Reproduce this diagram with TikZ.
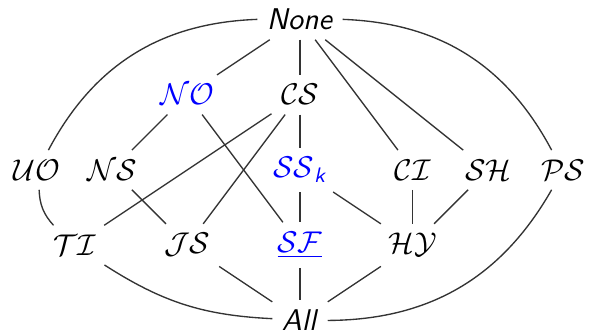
\documentclass[tikz,border=0pt]{standalone}
\usepackage{amsmath}
\usepackage{xcolor}
\usepackage{tikz}
\usetikzlibrary{positioning}

\begin{document}
\begin{tikzpicture}[
      x=0.8816cm, y=0.8816cm,
      font=\normalsize,
      cls/.style={inner sep=3pt},
      hcls/.style={cls, text=blue},
      edge/.style={black!80, line width=0.45pt},
    ]
      \useasboundingbox (-3.99,-2.19) rectangle (3.87,2.26);

      % Top and bottom
      \node[cls] (none) at ( 0.0,  2.0) {\textsf{\itshape None}};
      \node[cls] (all)  at ( 0.0, -2.0) {\textsf{\itshape All}};

      % Second row
      \node[hcls] (no) at (-1.5,  1.0) {$\mathcal{NO}$};
      \node[cls]  (cs) at ( 0.0,  1.0) {$\mathcal{CS}$};

      % Third row
      \node[cls]  (uo)  at (-3.5,  0.0) {$\mathcal{UO}$};
      \node[cls]  (ns)  at (-2.5,  0.0) {$\mathcal{NS}$};
      \node[hcls] (ssk) at ( 0.0,  0.0) {$\mathcal{SS}_{\textsf{\itshape k}}$};
      \node[cls]  (ci)  at ( 1.5,  0.0) {$\mathcal{CI}$};
      \node[cls]  (sh)  at ( 2.5,  0.0) {$\mathcal{SH}$};
      \node[cls]  (ps)  at ( 3.5,  0.0) {$\mathcal{PS}$};

      % Fourth row
      \node[cls]  (ti) at (-3.0, -1.0) {$\mathcal{TI}$};
      \node[cls]  (js) at (-1.5, -1.0) {$\mathcal{JS}$};
      \node[hcls] (sf) at ( 0.0, -1.0) {$\underline{\mathcal{SF}}$};
      \node[cls]  (hy) at ( 1.5, -1.0) {$\mathcal{HY}$};

      % Edges
      \draw[edge] (none) to[bend right=30] (uo);
      \draw[edge] (none) -- (no);
      \draw[edge] (none) -- (cs);
      \draw[edge] (none) -- (ci);
      \draw[edge] (none) -- (sh);
      \draw[edge] (none) to[bend left=30] (ps);
      \draw[edge] (no) -- (ns);
      \draw[edge] (no) -- (sf);
      \draw[edge] (cs) -- (ti);
      \draw[edge] (cs) -- (js);
      \draw[edge] (cs) -- (ssk);
      \draw[edge] (uo) to[bend right=20] (ti);
      \draw[edge] (ns) -- (js);
      \draw[edge] (ssk) -- (sf);
      \draw[edge] (ssk) -- (hy);
      \draw[edge] (ci) -- (hy);
      \draw[edge] (sh) -- (hy);
      \draw[edge] (ti) to[bend right=15] (all);
      \draw[edge] (js) -- (all);
      \draw[edge] (sf) -- (all);
      \draw[edge] (hy) -- (all);
      \draw[edge] (ps) to[bend left=30] (all);
    \end{tikzpicture}
\end{document}
